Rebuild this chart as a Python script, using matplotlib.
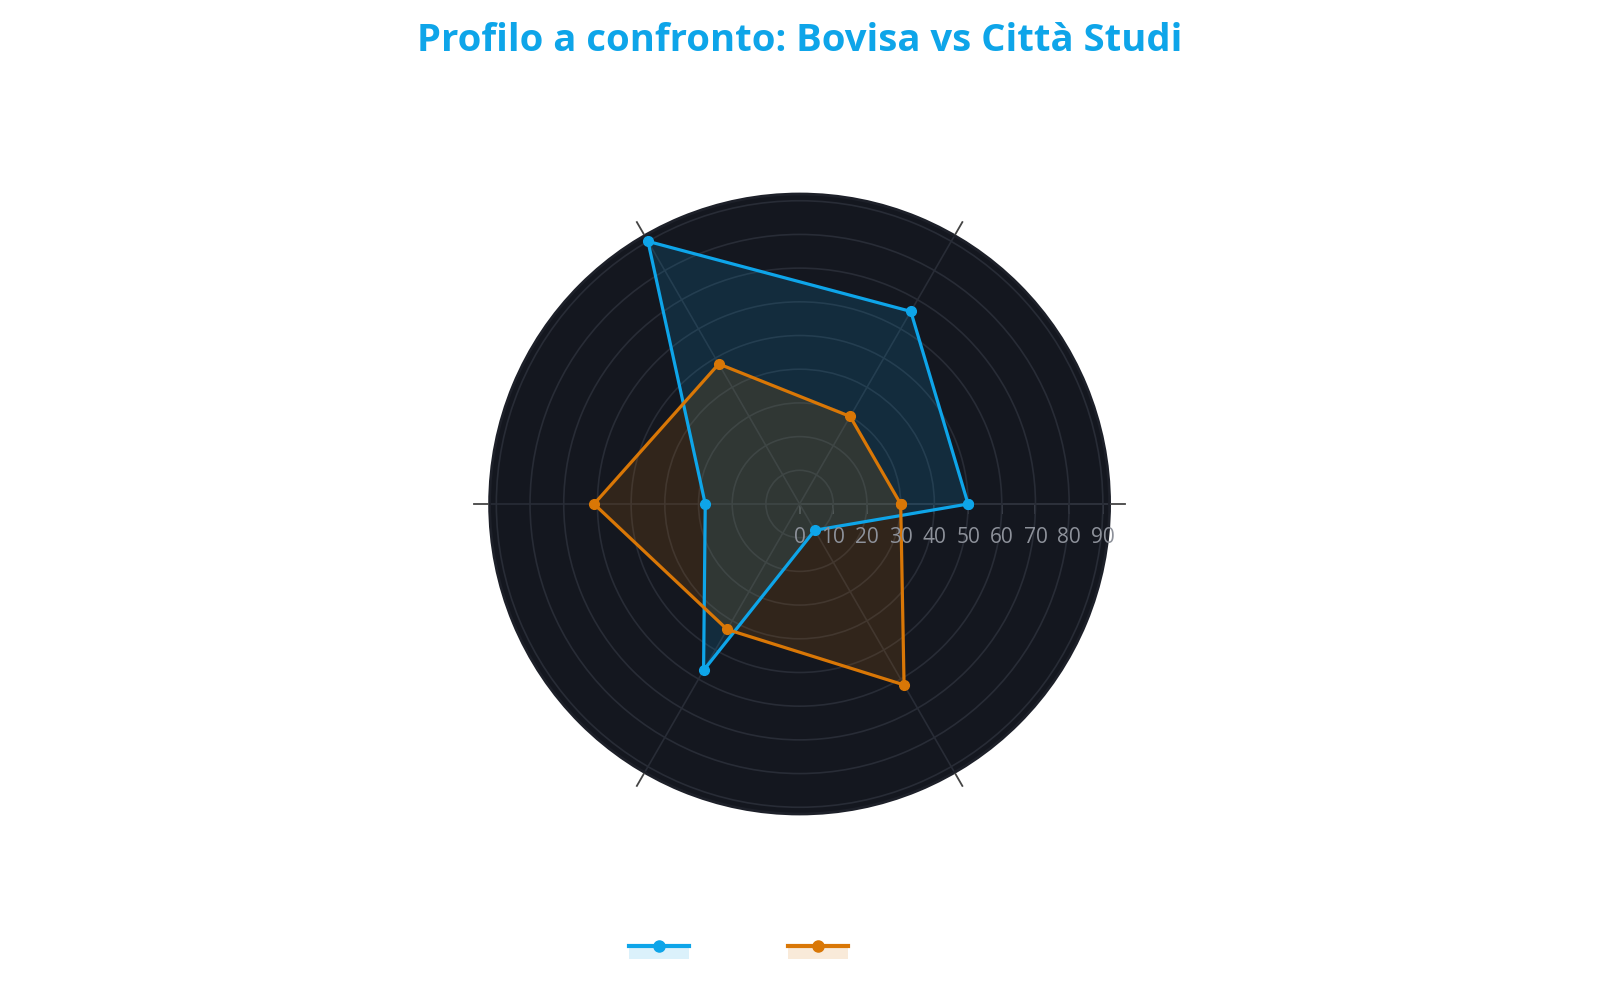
"""Radar chart: Bovisa vs Città Studi."""
import matplotlib
matplotlib.use("Agg")
import matplotlib.pyplot as plt
import numpy as np
from matplotlib.patches import Patch, Rectangle
from matplotlib.lines import Line2D
from matplotlib.legend_handler import HandlerPatch, HandlerTuple

plt.rcParams["font.family"] = ["Open Sans", "DejaVu Sans"]

categories = ["Trasporti", "Verde", "Servizi", "Costo vita", "Sicurezza", "Vita notturna"]
bovisa = [50, 66, 90, 28, 57, 9]
citta_studi = [30, 30, 48, 61, 43, 62]
rticks = [0, 10, 20, 30, 40, 50, 60, 70, 80, 90]
rmax = 92

BLUE = "#0ea5e9"
ORANGE = "#d97706"
BG = "#14171f"
GRID = "#282c36"

angles = np.deg2rad(np.arange(len(categories)) * 360 / len(categories))
closed = np.append(angles, angles[0])

fig = plt.figure(figsize=(16, 10), dpi=100)
ax = fig.add_axes([0.306, 0.186, 0.3875, 0.62], projection="polar")
ax.set_facecolor(BG)
ax.spines["polar"].set_color("#1d2029")
ax.spines["polar"].set_linewidth(2)

for vals, col, lab in [(bovisa, BLUE, "Bovisa"), (citta_studi, ORANGE, "Città Studi")]:
    v = np.append(vals, vals[0])
    ax.fill(closed, v, color=col, alpha=0.15, zorder=2)
    ax.plot(closed, v, color=col, lw=2.3, marker="o", ms=7, zorder=3, label=lab)

ax.set_ylim(0, rmax)
ax.set_yticks(rticks[1:])
ax.set_yticklabels([])
ax.set_xticks(angles)
# category labels are white on white in the original
ax.set_xticklabels(categories, color="white", fontsize=10)
ax.grid(color=GRID, lw=1.2)
ax.tick_params(axis="x", length=0, pad=30)

# small outer tick marks at each category
for a in angles:
    ax.plot([a, a], [rmax * 1.005, rmax * 1.05], color="#444444", lw=1.3,
            clip_on=False, zorder=5)

# radial axis along 0°
ax.plot([0, 0], [0, rmax], color="#4a4e58", lw=1.2, zorder=1.5)
ax.plot(np.zeros(len(rticks)), rticks, ls="none", marker=3, ms=7, mew=1.2,
        color="#4a4e58", zorder=1.5)
for r in rticks:
    ax.annotate(str(r), xy=(0, r), xytext=(0, -24), textcoords="offset points",
                ha="center", va="center", fontsize=15, color="#8d919a", zorder=4,
                annotation_clip=False)

fig.suptitle("Profilo a confronto: Bovisa vs Città Studi", y=0.978, fontsize=27.5,
             fontweight="bold", color=BLUE)


def half_patch(legend, orig_handle, xdescent, ydescent, width, height, fontsize):
    h = 1.35 * height
    return Rectangle((-xdescent, -ydescent + height / 2 - h), width, h)


handles = []
for col in [BLUE, ORANGE]:
    handles.append((Patch(facecolor=col, alpha=0.15, edgecolor="none"),
                    Line2D([], [], color=col, lw=3, marker="o", ms=8)))
leg = fig.legend(handles, ["Bovisa", "Città Studi"], loc="center", ncol=2,
                 bbox_to_anchor=(0.486, 0.053), frameon=False, fontsize=10,
                 handlelength=4.3, columnspacing=3.3, labelcolor="white",
                 handler_map={tuple: HandlerTuple(ndivide=1),
                              Patch: HandlerPatch(patch_func=half_patch)})

fig.savefig("out.png", dpi=100, facecolor="white")
